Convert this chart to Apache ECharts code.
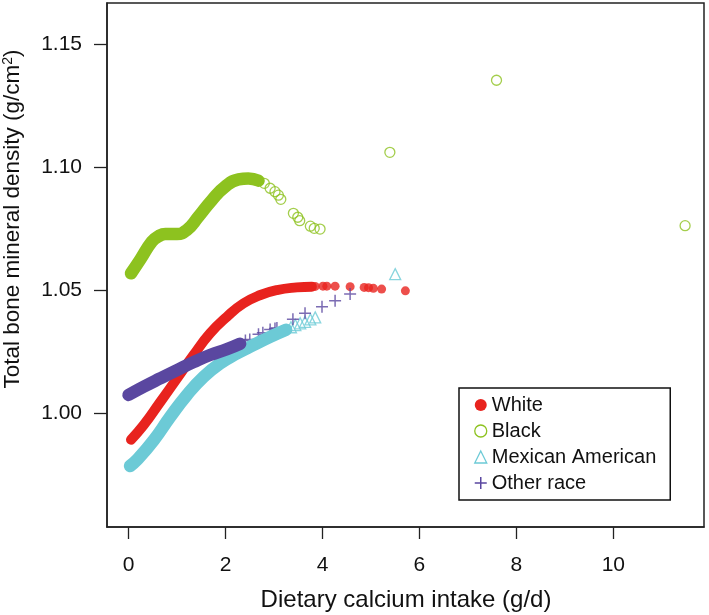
<!DOCTYPE html>
<html>
<head>
<meta charset="utf-8">
<script src="https://cdn.jsdelivr.net/npm/echarts@6/dist/echarts.min.js"></script>
<style>html,body{margin:0;padding:0;background:#fff;}#chart{width:709px;height:615px;}</style>
</head>
<body>
<div id="chart"></div>
<script>
// ---- data ----
const seriesNames = ['White', 'Black', 'Mexican American', 'Other race'];
const xTitle = 'Dietary calcium intake (g/d)';
const yTitle = 'Total bone mineral density (g/cm{sup|2})';
const xTicks = [0, 2, 4, 6, 8, 10];
const yTicks = [1.00, 1.05, 1.10, 1.15];

// White (dense part + sparse tail)
const whiteDenseX = [0.05, 0.31, 0.65, 1.00, 1.34, 1.68, 2.03, 2.37, 2.72, 3.06, 3.47, 3.78];
const whiteDenseY = [0.9893, 0.9952, 1.0045, 1.0142, 1.0237, 1.0325, 1.0393, 1.0447, 1.0481, 1.0501, 1.0512, 1.0515];
const whiteSparseX = [3.85, 4.01, 4.09, 4.26, 4.57, 4.86, 4.95, 5.05, 5.22, 5.71];
const whiteSparseY = [1.0516, 1.0517, 1.0517, 1.0517, 1.0515, 1.0512, 1.0511, 1.0508, 1.0505, 1.0498];

// Black
const blackDenseX = [0.05, 0.24, 0.48, 0.62, 0.76, 1.00, 1.20, 1.44, 1.72, 1.99, 2.27, 2.47, 2.68];
const blackDenseY = [1.0569, 1.0625, 1.0698, 1.0720, 1.0729, 1.0729, 1.0745, 1.0799, 1.0867, 1.0921, 1.0951, 1.0955, 1.0946];
const blackSparseX = [2.80, 2.92, 3.02, 3.09, 3.14, 3.40, 3.49, 3.53, 3.75, 3.83, 3.95, 5.39, 7.59, 11.48];
const blackSparseY = [1.0935, 1.0915, 1.0901, 1.0887, 1.0870, 1.0813, 1.0797, 1.0783, 1.0761, 1.0752, 1.0749, 1.1061, 1.1354, 1.0763];

// Mexican American
const mexDenseX = [0.03, 0.17, 0.52, 0.86, 1.20, 1.55, 1.89, 2.24, 2.58, 2.92, 3.25];
const mexDenseY = [0.9786, 0.9810, 0.9891, 0.9986, 1.0074, 1.0149, 1.0203, 1.0244, 1.0278, 1.0311, 1.0340];
const mexSparseX = [3.35, 3.44, 3.54, 3.64, 3.75, 3.85, 5.50];
const mexSparseY = [1.0350, 1.0359, 1.0366, 1.0372, 1.0382, 1.0390, 1.0566];

// Other race
const otherDenseX = [0.00, 0.31, 0.65, 1.00, 1.34, 1.68, 2.03, 2.30];
const otherDenseY = [1.0075, 1.0108, 1.0142, 1.0176, 1.0208, 1.0237, 1.0261, 1.0283];
const otherSparseX = [2.41, 2.50, 2.68, 2.77, 2.92, 3.02, 3.06, 3.39, 3.64, 3.99, 4.26, 4.57];
const otherSparseY = [1.0296, 1.0300, 1.0322, 1.0328, 1.0341, 1.0345, 1.0347, 1.0382, 1.0407, 1.0433, 1.0458, 1.0485];

// ---- styling ----
const FONT = "'Liberation Sans', Arial, Helvetica, sans-serif";
const INK = '#111111';
const RED = '#E8231E', GREEN = '#8DC21F', CYAN = '#6CCAD6', PURPLE = '#5A47A0';
const PLUS = 'path://M0,5L10,5M5,0L5,10';
const AXIS_LINE = { show: true, onZero: false, lineStyle: { color: '#222', width: 1.5 } };

const pairs = (xs, ys) => xs.map((x, i) => [x, ys[i]]);

function band(name, xs, ys, color, width) {
  return {
    name, type: 'line', data: pairs(xs, ys), smooth: true, symbol: 'none',
    lineStyle: { color, width, cap: 'round', join: 'round' }, silent: true
  };
}
function pts(name, xs, ys, symbol, size, itemStyle) {
  return { name, type: 'scatter', data: pairs(xs, ys), symbol, symbolSize: size, itemStyle, silent: true };
}

const chart = echarts.init(document.getElementById('chart'), null, { renderer: 'canvas' });
chart.setOption({
  animation: false,
  backgroundColor: '#fff',
  textStyle: { fontFamily: FONT },
  grid: { left: 107, right: 5, top: 3, bottom: 88, show: true, borderColor: '#222', borderWidth: 1.5 },
  xAxis: {
    type: 'value', min: -0.445, max: 11.87,
    axisLine: AXIS_LINE,
    splitLine: { show: false },
    axisTick: { show: true, length: 12, customValues: xTicks, lineStyle: { color: '#222', width: 1.3 } },
    axisLabel: { customValues: xTicks, fontSize: 21, color: INK, margin: 28, fontFamily: FONT }
  },
  yAxis: {
    type: 'value', min: 0.9538, max: 1.1668,
    axisLine: AXIS_LINE,
    splitLine: { show: false },
    axisTick: { show: true, length: 13, customValues: yTicks, lineStyle: { color: '#222', width: 1.3 } },
    axisLabel: { customValues: yTicks, fontSize: 21, color: INK, margin: 25, fontFamily: FONT,
                 formatter: v => v.toFixed(2) }
  },
  legend: {
    orient: 'vertical', left: 459, top: 388,
    padding: [6, 14, 6, 15], itemGap: 4, itemWidth: 12, itemHeight: 12,
    borderColor: '#111', borderWidth: 1.5, backgroundColor: '#fff',
    textStyle: { fontSize: 20, lineHeight: 22, color: INK, fontFamily: FONT },
    selectedMode: false,
    data: [
      { name: seriesNames[0], icon: 'circle', itemStyle: { color: RED, borderWidth: 0 } },
      { name: seriesNames[1], icon: 'circle', itemStyle: { color: 'rgba(0,0,0,0)', borderColor: GREEN, borderWidth: 1.3 } },
      { name: seriesNames[2], icon: 'triangle', itemStyle: { color: 'rgba(0,0,0,0)', borderColor: CYAN, borderWidth: 1.3 } },
      { name: seriesNames[3], icon: PLUS, itemStyle: { color: 'rgba(0,0,0,0)', borderColor: PURPLE, borderWidth: 1.5 } }
    ]
  },
  graphic: [{
    type: 'text', x: 13, y: 219, rotation: Math.PI / 2,
    style: {
      text: yTitle,
      fontSize: 22.5, fontFamily: FONT, fill: INK,
      align: 'center', verticalAlign: 'middle',
      rich: { sup: { fontSize: 14, fontFamily: FONT, verticalAlign: 'top', fill: INK } }
    }
  }, {
    type: 'text', x: 406, y: 600,
    style: { text: xTitle, fontSize: 24, fontFamily: FONT, fill: INK, align: 'center', verticalAlign: 'middle' }
  }],
  series: [
    band(seriesNames[0], whiteDenseX, whiteDenseY, RED, 10),
    pts(seriesNames[0], whiteSparseX, whiteSparseY, 'circle', 9, { color: RED }),
    band(seriesNames[1], blackDenseX, blackDenseY, GREEN, 12.5),
    pts(seriesNames[1], blackSparseX, blackSparseY, 'circle', 10, { color: 'rgba(0,0,0,0)', borderColor: GREEN, borderWidth: 1.3 }),
    band(seriesNames[2], mexDenseX, mexDenseY, CYAN, 12.5),
    pts(seriesNames[2], mexSparseX, mexSparseY, 'triangle', 11, { color: 'rgba(0,0,0,0)', borderColor: CYAN, borderWidth: 1.3 }),
    band(seriesNames[3], otherDenseX, otherDenseY, PURPLE, 12.5),
    pts(seriesNames[3], otherSparseX, otherSparseY, PLUS, 12, { color: 'rgba(0,0,0,0)', borderColor: PURPLE, borderWidth: 1.5 })
  ]
});
</script>
</body>
</html>
